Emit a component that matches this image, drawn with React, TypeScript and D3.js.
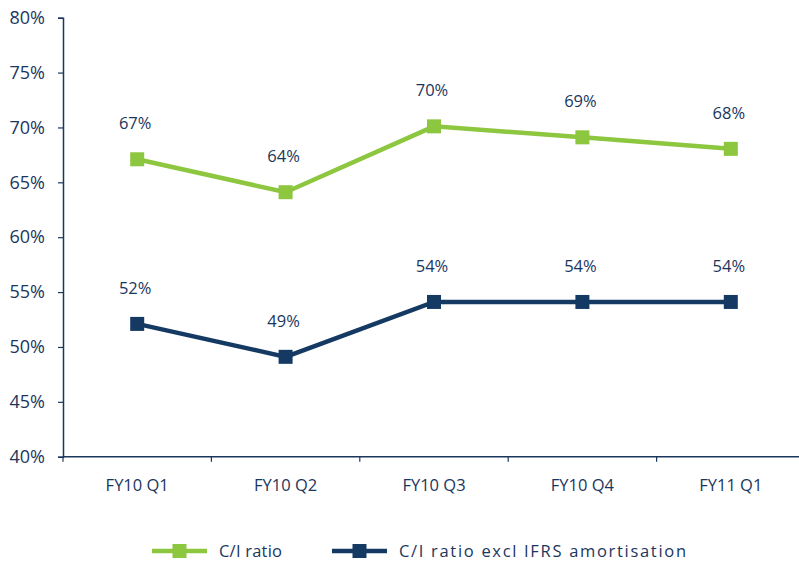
import React, { useRef, useEffect } from "react";
import * as d3 from "d3";

const categories = ["FY10 Q1", "FY10 Q2", "FY10 Q3", "FY10 Q4", "FY11 Q1"];
const ciRatio = [67.1, 64.1, 70.1, 69.1, 68.05];
const ciRatioExcl = [52.1, 49.1, 54.1, 54.1, 54.1];
const yTicks = [40, 45, 50, 55, 60, 65, 70, 75, 80];
const seriesNames = ["C/I ratio", "C/I ratio excl IFRS amortisation"];

const navy = "#1b365d";
const green = "#8dc63f";
const lineNavy = "#143a63";
const font = "'Open Sans', 'Noto Sans', sans-serif";

const App = () => {
    const plot = useRef(null);
    const width = 799;
    const height = 565;

    useEffect(() => {
        const svg = d3.select(plot.current);
        svg.selectAll("*").remove();

        const left = 63, right = 805, top = 17.7, bottom = 456.7;

        const xScale = d3.scaleBand().domain(categories).range([left, right]);
        const yScale = d3.scaleLinear().domain([40, 80]).range([bottom, top]);

        // y axis
        const yAxis = d3.axisLeft(yScale)
                        .tickValues(yTicks)
                        .tickSize(5)
                        .tickPadding(13)
                        .tickFormat(d => `${d}%`);
        svg.append("g")
            .attr("transform", `translate(${left},0)`)
            .call(yAxis)
            .call(g => g.select(".domain").attr("stroke", navy).attr("stroke-width", 1.5))
            .call(g => g.selectAll(".tick line").attr("stroke", navy).attr("stroke-width", 1.2))
            .call(g => g.selectAll("text")
                .attr("fill", navy)
                .attr("font-size", 18)
                .attr("font-family", font));

        // x axis with ticks between categories
        svg.append("line")
            .attr("x1", left).attr("x2", width)
            .attr("y1", bottom).attr("y2", bottom)
            .attr("stroke", navy).attr("stroke-width", 1.5);
        const boundaries = categories.map(c => xScale(c)).concat([right]);
        svg.append("g")
            .selectAll("line")
            .data(boundaries)
            .join("line")
            .attr("x1", d => d).attr("x2", d => d)
            .attr("y1", bottom).attr("y2", bottom + 5)
            .attr("stroke", navy).attr("stroke-width", 1.2);
        svg.append("g")
            .selectAll("text")
            .data(categories)
            .join("text")
            .attr("x", d => xScale(d) + xScale.bandwidth() / 2)
            .attr("y", bottom + 34)
            .attr("text-anchor", "middle")
            .attr("fill", navy)
            .attr("font-size", 16.5)
            .attr("font-family", font)
            .text(d => d);

        const line = d3.line()
                        .x((d, i) => xScale(categories[i]) + xScale.bandwidth() / 2)
                        .y(d => yScale(d));

        const series = [
            { values: ciRatio, color: green },
            { values: ciRatioExcl, color: lineNavy },
        ];

        series.forEach(s => {
            svg.append("path")
                .attr("fill", "none")
                .attr("stroke", s.color)
                .attr("stroke-width", 4.5)
                .attr("d", line(s.values));
            svg.append("g")
                .selectAll("rect")
                .data(s.values)
                .join("rect")
                .attr("x", (d, i) => xScale(categories[i]) + xScale.bandwidth() / 2 - 7)
                .attr("y", d => yScale(d) - 7)
                .attr("width", 14)
                .attr("height", 14)
                .attr("fill", s.color);
            svg.append("g")
                .selectAll("text")
                .data(s.values)
                .join("text")
                .attr("x", (d, i) => xScale(categories[i]) + xScale.bandwidth() / 2 - 2)
                .attr("y", d => yScale(d) - 30)
                .attr("text-anchor", "middle")
                .attr("fill", navy)
                .attr("font-size", 16.5)
                .attr("font-family", font)
                .text(d => `${Math.round(d)}%`);
        });

        // legend
        const legend = [
            { x: 152, color: green, name: seriesNames[0], len: 63 },
            { x: 332, color: lineNavy, name: seriesNames[1], len: 287 },
        ];
        const ly = 551;
        legend.forEach(l => {
            svg.append("line")
                .attr("x1", l.x).attr("x2", l.x + 55)
                .attr("y1", ly).attr("y2", ly)
                .attr("stroke", l.color).attr("stroke-width", 4.5);
            svg.append("rect")
                .attr("x", l.x + 27.5 - 7).attr("y", ly - 7)
                .attr("width", 14).attr("height", 14)
                .attr("fill", l.color);
            svg.append("text")
                .attr("x", l.x + 67)
                .attr("y", ly + 6)
                .attr("fill", navy)
                .attr("font-size", 16.5)
                .attr("font-family", font)
                .attr("textLength", l.len)
                .attr("lengthAdjust", "spacing")
                .text(l.name);
        });
    });

    return (
        <svg ref={plot} width={width} height={height}
             style={{ position: "absolute", left: 0, top: 0 }} />
    );
};

export default App;
